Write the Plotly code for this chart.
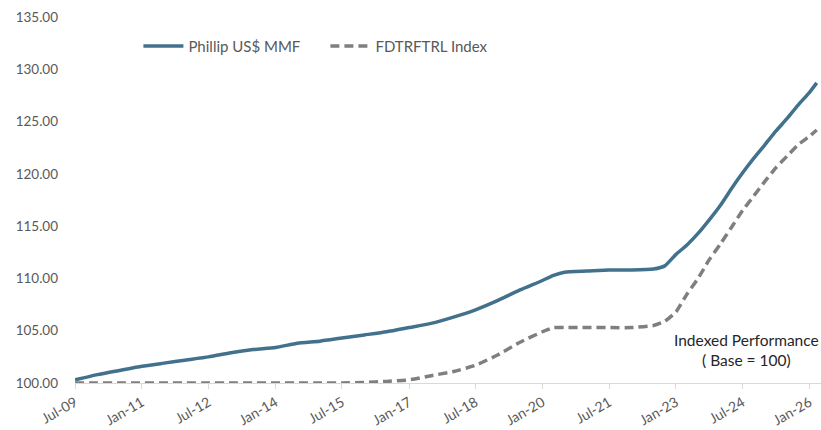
import plotly.graph_objects as go

dates = ["2009-07-01", "2010-01-01", "2010-07-01", "2011-01-01", "2011-07-01", "2012-01-01",
         "2012-07-01", "2013-01-01", "2013-07-01", "2014-01-01", "2014-07-01", "2015-01-01",
         "2015-07-01", "2016-01-01", "2016-07-01", "2017-01-01", "2017-07-01", "2018-01-01",
         "2018-07-01", "2019-01-01", "2019-07-01", "2020-01-01", "2020-04-01", "2020-07-01",
         "2021-01-01", "2021-07-01", "2022-01-01", "2022-07-01", "2022-10-01", "2023-01-01",
         "2023-04-01", "2023-07-01", "2023-10-01", "2024-01-01", "2024-04-01", "2024-07-01",
         "2024-10-01", "2025-01-01", "2025-04-01", "2025-07-01", "2025-10-01", "2026-01-01",
         "2026-03-01"]

phillip_mmf = [100.3, 100.8, 101.2, 101.6, 101.9, 102.2,
               102.5, 102.9, 103.2, 103.4, 103.8, 104.0,
               104.3, 104.6, 104.9, 105.3, 105.7, 106.3,
               107.0, 107.9, 108.9, 109.8, 110.3, 110.6,
               110.7, 110.8, 110.8, 110.9, 111.2, 112.3,
               113.2, 114.3, 115.6, 117.0, 118.6, 120.1,
               121.5, 122.8, 124.1, 125.3, 126.6, 127.8,
               128.7]

fdtrftrl_index = [100.0, 100.0, 100.0, 100.0, 100.0, 100.0,
                  100.0, 100.0, 100.0, 100.0, 100.0, 100.0,
                  100.0, 100.05, 100.15, 100.3, 100.7, 101.1,
                  101.7, 102.7, 103.9, 104.9, 105.3, 105.3,
                  105.3, 105.3, 105.3, 105.5, 105.9, 106.8,
                  108.5, 110.0, 111.8, 113.3, 114.9, 116.5,
                  117.9, 119.3, 120.6, 121.7, 122.8, 123.6,
                  124.2]

fig = go.Figure()
fig.add_trace(go.Scatter(x=dates, y=phillip_mmf, mode="lines", name="Phillip US$ MMF",
                         line=dict(color="#41718c", width=3.5, shape="spline", smoothing=0.5)))
fig.add_trace(go.Scatter(x=dates, y=fdtrftrl_index, mode="lines", name="FDTRFTRL Index",
                         line=dict(color="#7f7f7f", width=3.5, dash="9px,5px",
                                   shape="spline", smoothing=0.5)))

fig.add_annotation(text="Indexed Performance<br>( Base = 100)", xref="paper", yref="paper",
                   x=0.9, y=0.09, xanchor="center", yanchor="middle", showarrow=False,
                   font=dict(family="Lato", size=15.5, color="#262626"), align="center")

fig.update_layout(
    width=821, height=430,
    margin=dict(l=75, r=0, t=17, b=47, autoexpand=False),
    paper_bgcolor="white", plot_bgcolor="white",
    font=dict(family="Lato", size=13, color="#595959"),
    showlegend=True,
    legend=dict(orientation="h", x=0.085, y=0.92, xanchor="left", yanchor="middle",
                font=dict(family="Lato", size=15, color="#595959"),
                bgcolor="rgba(0,0,0,0)", itemwidth=40,
                entrywidth=132, entrywidthmode="pixels"),
    xaxis=dict(type="date", range=["2009-07-01", "2026-04-05"], automargin=False,
               tick0="2009-07-01", dtick="M18", tickformat="%b-%y", tickangle=-30,
               showgrid=False, showline=True, linecolor="#d9d9d9", linewidth=1,
               ticks="outside", ticklen=5, tickcolor="#d9d9d9",
               tickfont=dict(family="Lato", size=14, color="#595959"), zeroline=False),
    yaxis=dict(range=[100, 135], dtick=5, tickformat=".2f", showgrid=False, automargin=False,
               showline=False, zeroline=False, ticks="", ticklabelstandoff=16,
               tickfont=dict(family="Lato", size=13.5, color="#595959")),
)

fig.write_html("out.html", config={"displayModeBar": False},
               post_script="document.body.style.margin='0';document.body.style.overflow='hidden';")
